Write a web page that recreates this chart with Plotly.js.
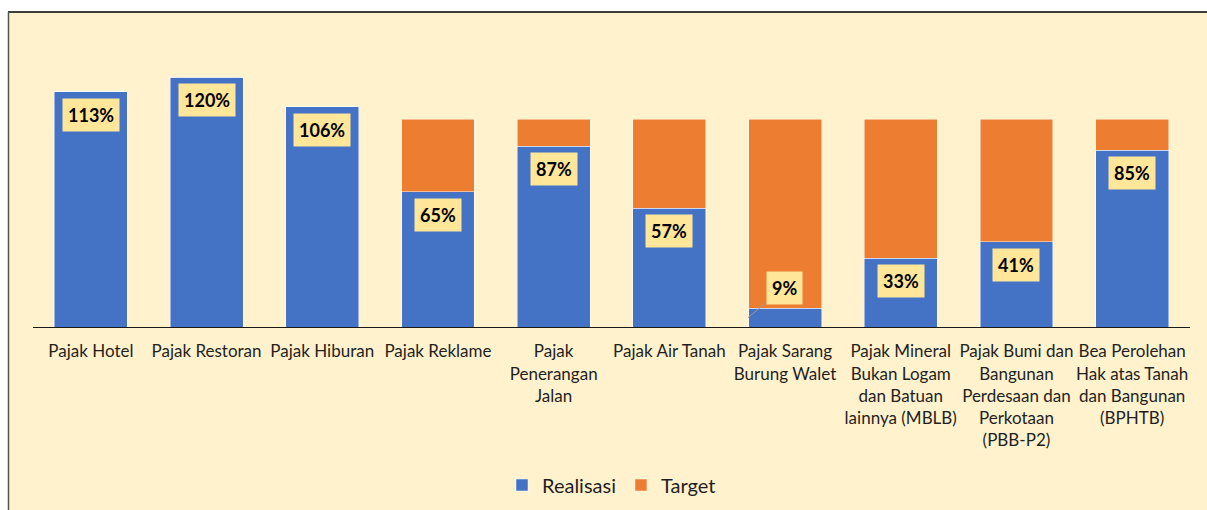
<!DOCTYPE html>
<html>
<head>
<meta charset="utf-8">
<script src="https://cdn.plot.ly/plotly-3.0.1.min.js"></script>
<style>html,body{margin:0;padding:0;background:#fff;}#chart{width:1207px;height:510px;}</style>
</head>
<body>
<div id="chart"></div>
<script>
const categories = [
  "Pajak Hotel",
  "Pajak Restoran",
  "Pajak Hiburan",
  "Pajak Reklame",
  "Pajak<br>Penerangan<br>Jalan",
  "Pajak Air Tanah",
  "Pajak Sarang<br>Burung Walet",
  "Pajak Mineral<br>Bukan Logam<br>dan Batuan<br>lainnya (MBLB)",
  "Pajak Bumi dan<br>Bangunan<br>Perdesaan dan<br>Perkotaan<br>(PBB-P2)",
  "Bea Perolehan<br>Hak atas Tanah<br>dan Bangunan<br>(BPHTB)"
];
const realisasi = [113, 120, 106, 65, 87, 57, 9, 33, 41, 85];
const targetSisa = [0, 0, 0, 35, 13, 43, 91, 67, 59, 15];
const labels = ["113%", "120%", "106%", "65%", "87%", "57%", "9%", "33%", "41%", "85%"];

const BLUE = "#4472C4", ORANGE = "#ED7D31", BG = "#FFF2CC";
const FONT = "Lato, 'Open Sans', sans-serif";

const traces = [
  {type: "bar", name: "Realisasi", x: categories, y: realisasi,
   marker: {color: BLUE, line: {color: "rgba(255,255,255,0.6)", width: 0.8}}, hoverinfo: "skip"},
  {type: "bar", name: "Target", x: categories, y: targetSisa,
   marker: {color: ORANGE, line: {color: "rgba(255,255,255,0.6)", width: 0.8}}, hoverinfo: "skip"}
];

const annotations = categories.map((c, i) => {
  const base = {
    x: c, text: "<b>" + labels[i] + "</b>", bgcolor: "#FFE699", borderpad: 5,
    font: {family: FONT, size: 18, color: "#000"}, xref: "x", yref: "y"
  };
  if (realisasi[i] < 15) {
    return Object.assign(base, {
      y: realisasi[i] / 2, xshift: -37, showarrow: true, arrowhead: 0,
      arrowcolor: "#9a9a9a", arrowwidth: 1, ax: 36, ay: -30
    });
  }
  return Object.assign(base, {y: realisasi[i], yanchor: "top", yshift: -6, showarrow: false});
});

const W = 1207, H = 510, L = 33, R = 17, T = 40, B = 183;
const pw = W - L - R, ph = H - T - B;
const px = v => (v - L) / pw;
const py = v => (H - B - v) / ph;

const shapes = [
  {type: "rect", xref: "paper", yref: "paper", x0: px(-5), x1: px(W + 5), y0: py(12), y1: py(-5),
   fillcolor: "#fff", line: {width: 0}, layer: "below"},
  {type: "rect", xref: "paper", yref: "paper", x0: px(-5), x1: px(8), y0: py(H + 5), y1: py(-5),
   fillcolor: "#fff", line: {width: 0}, layer: "below"},
  {type: "line", xref: "paper", yref: "paper", x0: px(8), x1: px(W + 5), y0: py(12), y1: py(12),
   line: {color: "#000", width: 1.5}},
  {type: "line", xref: "paper", yref: "paper", x0: px(8.5), x1: px(8.5), y0: py(12), y1: py(H + 5),
   line: {color: "#555", width: 1.5}}
];

const layout = {
  width: W, height: H,
  margin: {l: L, r: R, t: T, b: B, autoexpand: false},
  paper_bgcolor: BG, plot_bgcolor: BG,
  barmode: "stack", bargap: 0.37,
  font: {family: FONT, size: 17, color: "#1f1f1f"},
  xaxis: {type: "category", showline: true, linecolor: "#1a1a1a", linewidth: 1,
          ticks: "", showgrid: false, tickangle: 0, fixedrange: true, automargin: false,
          ticklabelstandoff: 9,
          tickfont: {family: FONT, size: 17, color: "#1f1f1f"}},
  yaxis: {range: [0, ph / 2.08], visible: false, showgrid: false, zeroline: false,
          fixedrange: true, automargin: false},
  showlegend: true,
  legend: {orientation: "h", x: 0.5, xanchor: "center", y: py(485), yanchor: "middle",
           font: {family: FONT, size: 20, color: "#1f1f1f"}, bgcolor: "rgba(0,0,0,0)",
           traceorder: "normal", itemwidth: 30},
  annotations: annotations,
  shapes: shapes
};

Plotly.newPlot("chart", traces, layout, {displayModeBar: false, staticPlot: true});
</script>
</body>
</html>
